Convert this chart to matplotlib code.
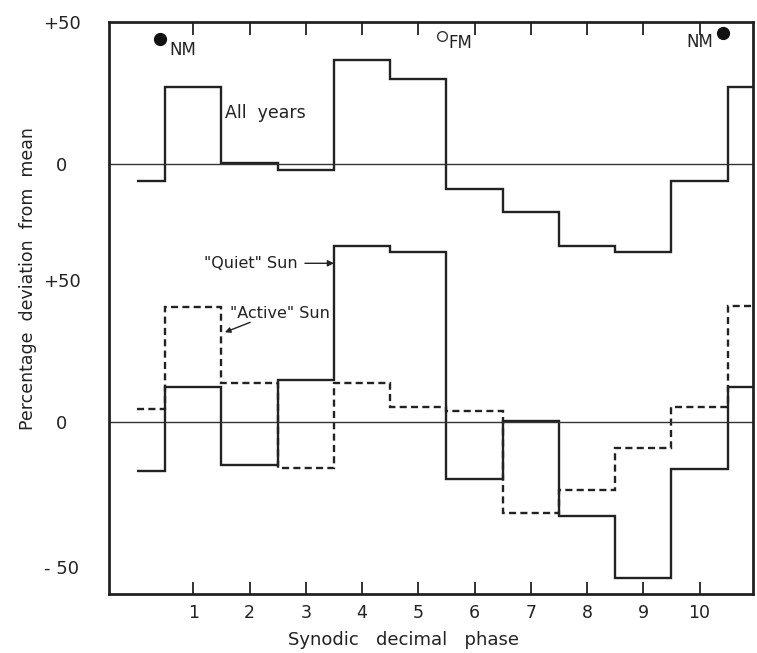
import numpy as np
import matplotlib
matplotlib.use("Agg")
import matplotlib.pyplot as plt

# Percentage deviation from mean, one value per synodic decimal phase bin
# bin 0 covers 0-0.5, bins 1..10 are centred on the integers, bin 11 is 10.5 onwards
all_years = [-6, 27, 0.5, -2, 36.5, 30, -9, -17, -29, -31, -6, 27]
quiet_sun = [-17, 12.5, -15, 15, 62, 60, -20, 0.5, -33, -55, -16.5, 12.5]
active_sun = [4.5, 40.5, 14, -16, 14, 5.5, 4, -32, -24, -9, 5.5, 41]

phase_ticks = list(range(1, 11))
top_offset = 91          # the "All years" panel is drawn above the other one
x_max = 10.95
edges = np.r_[0, np.arange(0.5, 11, 1), x_max]

ink = '#222222'
plt.rcParams['font.family'] = 'DejaVu Sans'
fig = plt.figure(figsize=(7.57, 6.53), dpi=100)
ax = fig.add_axes([109/757, 59/653, 644/757, 572/653])

lw = 1.7
ax.stairs(np.array(all_years) + top_offset, edges, baseline=None, color=ink, lw=lw)
ax.stairs(quiet_sun, edges, baseline=None, color=ink, lw=lw)
ax.stairs(active_sun, edges, baseline=None, color=ink, lw=lw, linestyle=(0, (3, 1.8)))

# zero lines of both panels
ax.axhline(top_offset, color='#333333', lw=1.0)
ax.axhline(0, color='#333333', lw=1.0)

# moon phase markers
ax.plot(0.41, 134.9, 'o', color='#111111', ms=8.5)
ax.text(0.57, 131, 'NM', fontsize=12, va='center', ha='left', color=ink)
ax.plot(5.42, 135.9, 'o', mfc='none', mec='#333333', mew=1.0, ms=7)
ax.text(5.53, 133.5, 'FM', fontsize=12, va='center', ha='left', color=ink)
ax.plot(10.42, 137, 'o', color='#111111', ms=8.5)
ax.text(10.24, 133.8, 'NM', fontsize=12, va='center', ha='right', color=ink)

# series labels
ax.text(1.56, 108.8, 'All  years', fontsize=12.5, va='center', ha='left', color=ink)
ax.annotate('"Quiet" Sun', xy=(3.5, 56), xytext=(2.86, 56), fontsize=11.5,
            va='center', ha='right', color=ink,
            arrowprops=dict(arrowstyle='-|>', color=ink, lw=1.0,
                            shrinkA=3, shrinkB=0, mutation_scale=9))
ax.text(1.65, 38.4, '"Active" Sun', fontsize=11.5, va='center', ha='left', color=ink)
ax.annotate('', xy=(1.56, 31.7), xytext=(2.01, 35.2),
            arrowprops=dict(arrowstyle='-|>', color=ink, lw=1.0,
                            shrinkA=0, shrinkB=0, mutation_scale=8))

ax.set_xlim(-0.5, x_max)
ax.set_ylim(-60.5, 141)

ax.set_xticks(phase_ticks)
ax.set_xticklabels([str(t) for t in phase_ticks], fontsize=12.5, color=ink)
ax.tick_params(axis='x', direction='in', length=9, width=1.3, pad=7,
               top=True, bottom=True, colors=ink)

ax.set_yticks([141, top_offset, 50, 0, -51])
ax.set_yticklabels(['+50', '0', '+50', '0', '- 50'], fontsize=13, color=ink)
for lab in ax.get_yticklabels():
    lab.set_ha('center')
ax.tick_params(axis='y', which='major', length=0, pad=34)
ax.set_yticks([50], minor=True)
ax.tick_params(axis='y', which='minor', direction='in', length=12, width=1.5,
               left=True, right=True, colors=ink)

for s in ax.spines.values():
    s.set_linewidth(2.0)
    s.set_color(ink)

ax.set_xlabel('Synodic   decimal   phase', fontsize=13, color=ink)
ax.xaxis.set_label_coords(0.458, -0.065)
ax.set_ylabel('Percentage  deviation  from  mean', fontsize=12.5, color=ink)
ax.yaxis.set_label_coords(-0.112, 0.552)

fig.savefig('out.png', dpi=100)
